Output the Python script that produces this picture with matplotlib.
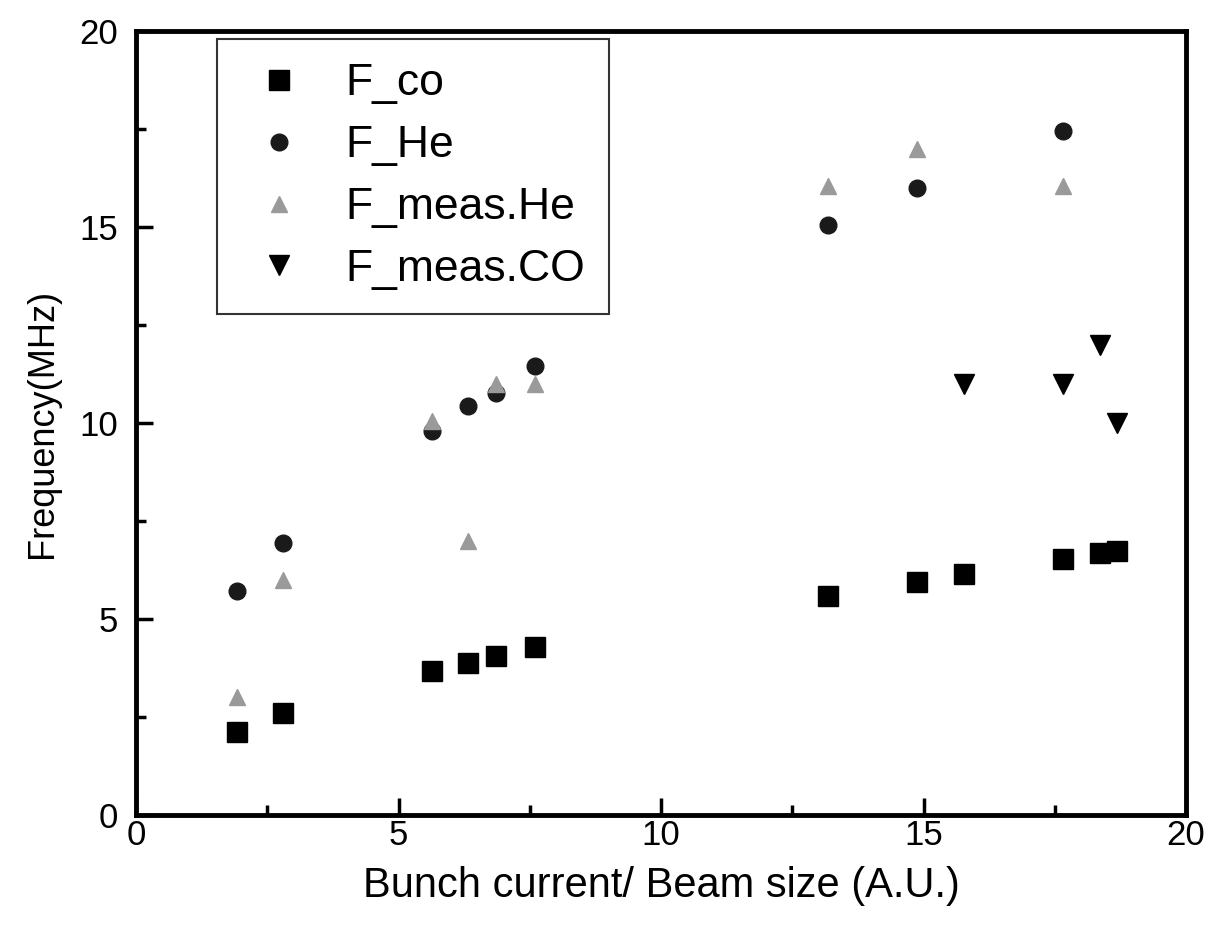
import matplotlib
matplotlib.use('Agg')
import matplotlib.pyplot as plt
from matplotlib.ticker import MultipleLocator

plt.rcParams['font.family'] = ['Liberation Sans', 'DejaVu Sans']

# F_co (squares)
x_co = [1.92, 2.80, 5.64, 6.32, 6.86, 7.60, 13.18, 14.87, 15.77, 17.65, 18.37, 18.68]
f_co = [2.12, 2.60, 3.67, 3.88, 4.06, 4.29, 5.59, 5.94, 6.15, 6.53, 6.68, 6.73]

# F_He (circles)
x_he = [1.92, 2.80, 5.64, 6.32, 6.86, 7.60, 13.18, 14.87, 17.65]
f_he = [5.71, 6.94, 9.80, 10.43, 10.77, 11.45, 15.05, 16.00, 17.45]

# F_meas.He (triangles up)
x_mhe = [1.92, 2.80, 5.64, 6.32, 6.86, 7.60, 13.18, 14.87, 17.65]
f_mhe = [3.0, 6.0, 10.05, 7.0, 11.0, 11.0, 16.05, 17.0, 16.05]

# F_meas.CO (triangles down)
x_mco = [15.77, 17.65, 18.37, 18.68]
f_mco = [11.0, 11.0, 12.0, 10.0]

fig = plt.figure(figsize=(12.09, 9.38), dpi=100)
ax = fig.add_axes([136/1209, 1 - 815/938, 1050/1209, 784/938])

ax.plot(x_co, f_co, 's', color='black', markersize=14, linestyle='none', label='F_co')
ax.plot(x_he, f_he, 'o', color='#1a1a1a', markersize=12, linestyle='none', label='F_He')
ax.plot(x_mhe, f_mhe, '^', color='#9a9a9a', markersize=11, linestyle='none', label='F_meas.He')
ax.plot(x_mco, f_mco, 'v', color='black', markersize=14, linestyle='none', label='F_meas.CO')

ax.set_xlim(0, 20)
ax.set_ylim(0, 20)
ax.xaxis.set_major_locator(MultipleLocator(5))
ax.xaxis.set_minor_locator(MultipleLocator(2.5))
ax.yaxis.set_major_locator(MultipleLocator(5))
ax.yaxis.set_minor_locator(MultipleLocator(2.5))
ax.tick_params(which='both', direction='in', width=2.5, labelsize=25, top=False, right=False)
ax.tick_params(which='major', length=12)
ax.tick_params(which='minor', length=7)
ax.tick_params(axis='x', which='major', pad=3)
ax.tick_params(axis='y', which='major', pad=13)
for s in ax.spines.values():
    s.set_linewidth(3.5)

ax.set_xlabel('Bunch current/ Beam size (A.U.)', fontsize=30, labelpad=10)
ax.set_ylabel('Frequency(MHz)', fontsize=26, labelpad=14)

leg = ax.legend(loc='upper left', bbox_to_anchor=(0.077, 0.99), fontsize=32,
                frameon=True, fancybox=False, edgecolor='black', handletextpad=0.64,
                handlelength=1.7, borderpad=0.55, labelspacing=0.47, borderaxespad=0)
leg.get_frame().set_linewidth(1.5)

fig.savefig('out.png', dpi=100)
